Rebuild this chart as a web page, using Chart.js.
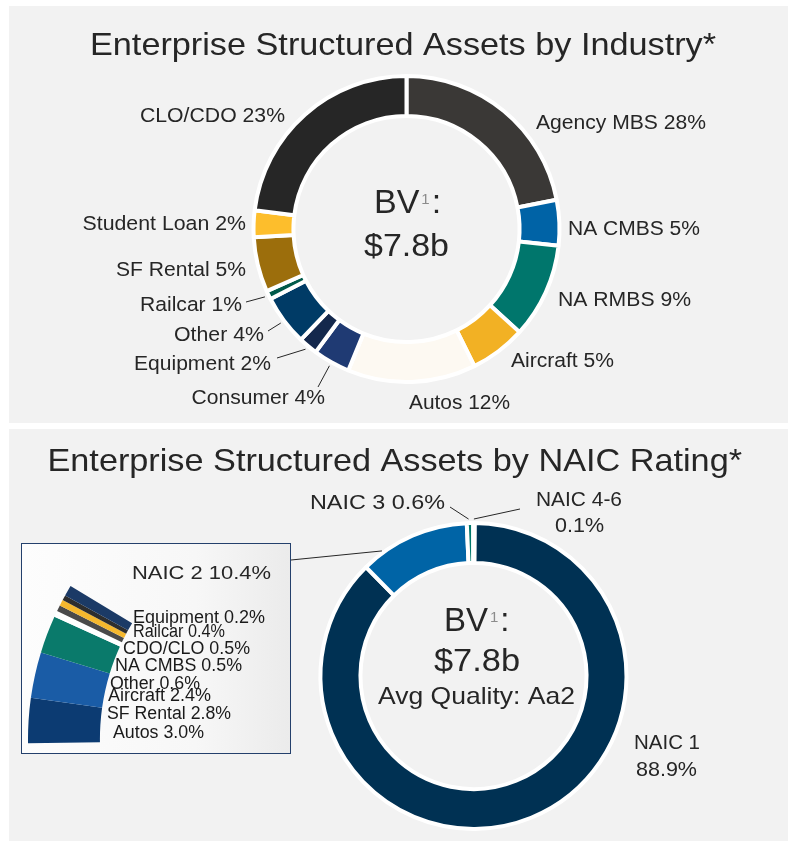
<!DOCTYPE html>
<html>
<head>
<meta charset="utf-8">
<title>Enterprise Structured Assets</title>
<script src="https://cdn.jsdelivr.net/npm/chart.js@4.4.1/dist/chart.umd.min.js"></script>
<style>
  html, body { margin: 0; padding: 0; background: #fff; }
  body { position: relative; width: 788px; height: 841px; overflow: hidden; }
  .panel { position: absolute; left: 9px; width: 779px; background: #f2f2f2; }
  #p1 { top: 6px; height: 417px; }
  #p2 { top: 429px; height: 412px; }
  canvas { position: absolute; left: 0; top: 0; display: block; }
  #box { position: absolute; left: 21px; top: 543px; width: 268px; height: 209px;
         border: 1px solid #24406c; overflow: hidden;
         background: linear-gradient(90deg, #fdfdfd 0%, #f7f7f7 65%, #ebebeb 100%); }
</style>
</head>
<body>
<div class="panel" id="p1"><canvas id="industry" width="779" height="417"></canvas></div>
<div class="panel" id="p2"><canvas id="naic" width="779" height="412"></canvas></div>
<div id="box"><canvas id="naic2" width="592" height="592" style="left:6px;top:-101px"></canvas></div>
<script>
// ---- data ----
// industry split; the printed figures and the slice sizes as drawn differ a bit
const industryNames = ['Agency MBS', 'NA CMBS', 'NA RMBS', 'Aircraft', 'Autos', 'Consumer', 'Equipment', 'Other', 'Railcar', 'SF Rental', 'Student Loan', 'CLO/CDO'];
const industryShown = ['28%', '5%', '9%', '5%', '12%', '4%', '2%', '4%', '1%', '5%', '2%', '23%'];
const industryArc = [21.9, 4.8, 10.0, 5.9, 13.5, 3.9, 2.0, 5.3, 0.9, 5.8, 2.8, 23.0];

const naicNames = ['NAIC 1', 'NAIC 2', 'NAIC 3', 'NAIC 4-6'];
const naicShown = ['88.9%', '10.4%', '0.6%', '0.1%'];
const naicArc = [87.5, 11.7, 0.67, 0.14];

// NAIC 2 breakdown, drawn as a magnified wedge (sizes in degrees of that wedge)
const naic2Names = ['Autos', 'SF Rental', 'Aircraft', 'Other', 'NA CMBS', 'CDO/CLO', 'Railcar', 'Equipment'];
const naic2Shown = ['3.0%', '2.8%', '2.4%', '0.6%', '0.5%', '0.5%', '0.4%', '0.2%'];
const naic2Arc = [8.8, 9.0, 7.4, 1.2, 1.2, 1.2, 1.0, 2.1];

const bookValue = '$7.8b';
const avgQuality = 'Aa2';

// ---- styles / layout ----
const industryColors = ['#3a3836', '#0063a6', '#00766c', '#f2b124', '#fdf9f2', '#1f3a73', '#14284c', '#003b66', '#005a4a', '#9c6e0c', '#fdbe2c', '#262626'];
const naicColors = ['#003153', '#0064a6', '#00786b', '#003153'];
const naic2Colors = ['#0c3b72', '#1a5ca6', '#0a7a6b', '#ffffff', '#4a4a4a', '#f5b82e', '#2e2e2e', '#1b3a66'];

const INK = '#262626';
const FONT = '"Liberation Sans", Arial, Helvetica, sans-serif';

// label boxes in page px: [left, cap middle, width]
const industryLabelPos = [
  [536, 121.7, 170], [568, 227.8, 132], [558, 299, 133], [511, 359.5, 103],
  [409, 401.5, 101], [191.5, 396.7, 133.5], [134, 362.5, 137], [174, 334, 90],
  [140, 304, 102], [116, 269, 130], [82.5, 222.5, 163.5], [140, 114.5, 145]
];
const industryLeaders = [[8, 246, 302], [7, 268, 331], [6, 277, 358], [5, 318, 387]];

const naic2LabelPos = [
  [113, 732, 91], [107, 713, 124], [108, 695, 103], [110, 683, 90],
  [115, 665, 127], [123, 648, 127], [133, 631, 92], [133, 617, 132]
];

function text(ctx, t, x, y, size, w, color) {
  ctx.font = size + 'px ' + FONT;
  ctx.fillStyle = color || INK;
  ctx.textAlign = 'left';
  ctx.textBaseline = 'alphabetic';
  const m = ctx.measureText(t).width;
  ctx.save();
  ctx.translate(x, y + size * 0.358);
  ctx.scale(w ? w / m : 1, 1);
  ctx.fillText(t, 0, 0);
  ctx.restore();
}

function bv(ctx, x, y, size) {
  const base = y + size * 0.358;
  ctx.textAlign = 'left';
  ctx.textBaseline = 'alphabetic';
  ctx.font = size + 'px ' + FONT;
  ctx.fillStyle = INK;
  ctx.fillText('BV', x, base);
  let cx = x + ctx.measureText('BV').width + 2;
  ctx.font = Math.round(size * 0.45) + 'px ' + FONT;
  ctx.fillStyle = '#8c8c8c';
  ctx.fillText('1', cx, base - size * 0.27);
  cx += ctx.measureText('1').width + 2;
  ctx.font = size + 'px ' + FONT;
  ctx.fillStyle = INK;
  ctx.fillText(':', cx, base);
}

function line(ctx, a, b) {
  ctx.beginPath();
  ctx.moveTo(a[0], a[1]);
  ctx.lineTo(b[0], b[1]);
  ctx.lineWidth = 1;
  ctx.strokeStyle = INK;
  ctx.stroke();
}

// point just outside slice i, t = position along the slice (0..1), page coords
function arcPoint(chart, origin, i, t, gap) {
  const a = chart.getDatasetMeta(0).data[i];
  const ang = a.startAngle + (a.endAngle - a.startAngle) * t;
  const r = a.outerRadius + gap;
  return [origin[0] + a.x + r * Math.cos(ang), origin[1] + a.y + r * Math.sin(ang)];
}

function decorations(origin, draw) {
  return {
    id: 'decorations',
    afterDraw(chart) {
      const ctx = chart.ctx;
      ctx.save();
      ctx.translate(-origin[0], -origin[1]);
      draw(ctx, chart);
      ctx.restore();
    }
  };
}

function ringOptions(padding, cutout, rotation) {
  return {
    responsive: false,
    animation: false,
    events: [],
    cutout: cutout,
    rotation: rotation,
    layout: { padding: padding },
    plugins: { legend: { display: false }, tooltip: { enabled: false }, title: { display: false } }
  };
}

// ---- chart 1: by industry ----
const p1 = [9, 6];
new Chart(document.getElementById('industry'), {
  type: 'doughnut',
  data: {
    labels: industryNames,
    datasets: [{ data: industryArc, backgroundColor: industryColors, borderColor: '#ffffff', borderWidth: 4 }]
  },
  options: ringOptions({ left: 242.5, top: 68, right: 226.5, bottom: 39 }, '73.9%', 0),
  plugins: [decorations(p1, (ctx, chart) => {
    text(ctx, 'Enterprise Structured Assets by Industry*', 90, 43.3, 32, 626);
    industryNames.forEach((n, i) => {
      const p = industryLabelPos[i];
      text(ctx, n + ' ' + industryShown[i], p[0], p[1], 20.5, p[2]);
    });
    industryLeaders.forEach(l => line(ctx, [l[1], l[2]], arcPoint(chart, p1, l[0], 0.5, 4)));
    bv(ctx, 374, 201, 34);
    text(ctx, bookValue, 364, 245, 32, 85);
  })]
});

// ---- chart 2: by NAIC rating ----
const p2 = [9, 429];
new Chart(document.getElementById('naic'), {
  type: 'doughnut',
  data: {
    labels: naicNames,
    datasets: [{ data: naicArc, backgroundColor: naicColors, borderColor: '#ffffff', borderWidth: 4 }]
  },
  options: ringOptions({ left: 309.5, top: 92, right: 159.5, bottom: 10 }, '73.9%', 0.4),
  plugins: [decorations(p2, (ctx, chart) => {
    text(ctx, 'Enterprise Structured Assets by NAIC Rating*', 47.5, 459.5, 32, 694.5);
    text(ctx, naicNames[2] + ' ' + naicShown[2], 310, 501.7, 20.5, 135);
    text(ctx, naicNames[3], 536, 498.8, 20.5, 86);
    text(ctx, naicShown[3], 555, 524.5, 20.5, 49);
    text(ctx, naicNames[0], 634, 741.7, 20.5, 66);
    text(ctx, naicShown[0], 636, 768.3, 20.5, 61);
    line(ctx, [291, 560], arcPoint(chart, p2, 1, 0.2, 2));
    line(ctx, [450, 507], arcPoint(chart, p2, 2, 0.3, 4));
    line(ctx, [520, 509], arcPoint(chart, p2, 3, 0.5, 4));
    bv(ctx, 444, 618.8, 33);
    text(ctx, bookValue, 434, 659.5, 32, 86);
    text(ctx, 'Avg Quality: ' + avgQuality, 378, 695.3, 24, 197);
  })]
});

// ---- inset: NAIC 2 breakdown (magnified wedge of a larger ring) ----
const p3 = [28, 443];
const wedgeRest = 360 - naic2Arc.reduce((a, b) => a + b, 0);
new Chart(document.getElementById('naic2'), {
  type: 'doughnut',
  data: {
    labels: naic2Names.concat(['']),
    datasets: [{
      data: naic2Arc.concat([wedgeRest]),
      backgroundColor: naic2Colors.concat(['rgba(0,0,0,0)']),
      borderWidth: 0
    }]
  },
  options: ringOptions(0, '75.7%', 269.2),
  plugins: [decorations(p3, (ctx) => {
    text(ctx, naicNames[1] + ' ' + naicShown[1], 132, 572, 18.5, 139);
    naic2Names.forEach((n, i) => {
      const p = naic2LabelPos[i];
      text(ctx, n + ' ' + naic2Shown[i], p[0], p[1], 18, p[2], '#1a1a1a');
    });
  })]
});
</script>
</body>
</html>
